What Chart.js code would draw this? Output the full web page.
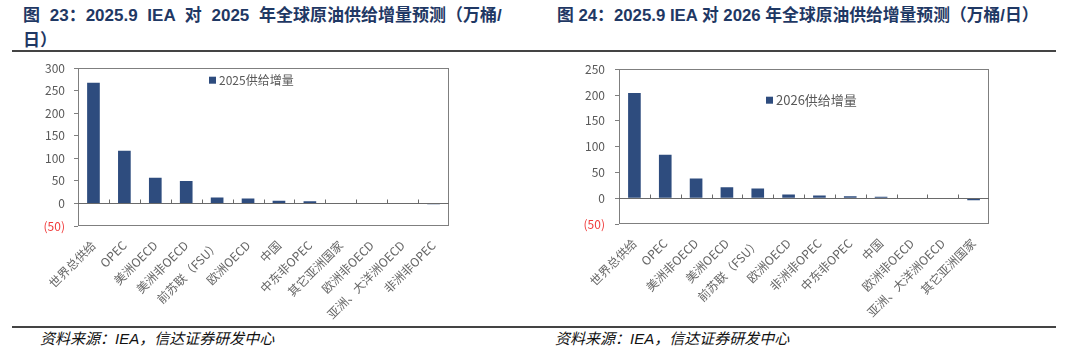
<!DOCTYPE html>
<html><head><meta charset="utf-8">
<script src="https://cdn.jsdelivr.net/npm/chart.js@4.4.0/dist/chart.umd.min.js"></script>
<style>
body{margin:0;width:1080px;height:356px;background:#fff;position:relative;overflow:hidden;font-family:"Liberation Sans","Noto Sans CJK SC",sans-serif;}
.title{position:absolute;font-weight:bold;color:#1F3864;font-size:16.8px;line-height:25px;white-space:nowrap;font-family:"Liberation Sans","Noto Sans CJK SC",sans-serif;}
.rule{position:absolute;left:12px;width:1044px;height:2px;background:#444;}
.src{position:absolute;font-style:italic;font-size:15px;color:#111;white-space:nowrap;font-family:"Liberation Sans","Noto Sans CJK SC",sans-serif;}
.box{position:absolute;top:52px;width:540px;height:274px;}
</style></head>
<body>
<div class="title" id="t1" style="left:23px;top:3px;font-size:17px;word-spacing:5px;">图 23：2025.9 IEA 对 2025 年全球原油供给增量预测（万桶/</div>
<div class="title" style="left:23px;top:28px;font-size:17px;">日）</div>
<div class="title" style="left:557px;top:3px;">图 24：2025.9 IEA 对 2026 年全球原油供给增量预测（万桶/日）</div>
<div class="rule" style="top:50px;"></div>
<div class="box" style="left:0;"><canvas id="c1"></canvas></div>
<div class="box" style="left:540px;"><canvas id="c2"></canvas></div>
<div class="rule" style="top:326px;"></div>
<div class="src" style="left:40px;top:327px;">资料来源：IEA，信达证券研发中心</div>
<div class="src" style="left:555px;top:327px;">资料来源：IEA，信达证券研发中心</div>
<script>
// ---- data ----
const cats2025 = ['世界总供给','OPEC','美洲OECD','美洲非OECD','前苏联（FSU）','欧洲OECD','中国','中东非OPEC','其它亚洲国家','欧洲非OECD','亚洲、大洋洲OECD','非洲非OPEC'];
const supply2025 = [268,117,57,50,13,11,6,5,0,0,0,-2];
const yTicks2025 = [-50,0,50,100,150,200,250,300];

const cats2026 = ['世界总供给','OPEC','美洲非OECD','美洲OECD','前苏联（FSU）','欧洲OECD','非洲非OPEC','中东非OPEC','中国','欧洲非OECD','亚洲、大洋洲OECD','其它亚洲国家'];
const supply2026 = [204,84,38,21,19,7,5,4,3,0,0,-4];
const yTicks2026 = [-50,0,50,100,150,200,250];

const label2025 = '2025供给增量';
const label2026 = '2026供给增量';

const BAR = '#2E4C7E';
const GRAY = '#595959';
const XGRAY = '#666666';
const FONT = '"Noto Sans CJK SC","Liberation Sans",sans-serif';

const framePlugin = {
  id: 'frame',
  afterDatasetsDraw(chart, args, opts) {
    const {ctx, chartArea: a, scales: {x, y}} = chart;
    ctx.save();
    ctx.lineWidth = 1;
    ctx.strokeStyle = '#7f7f7f';
    ctx.strokeRect(Math.round(a.left) + 0.5, Math.round(a.top) + 0.5, Math.round(a.width) - 1, Math.round(a.height) - 1);
    const y0 = Math.round(y.getPixelForValue(0)) + 0.5;
    ctx.strokeStyle = '#6a6a6a';
    ctx.beginPath();
    ctx.moveTo(a.left, y0); ctx.lineTo(a.right, y0);
    const n = x.ticks.length;
    for (let i = 1; i < n; i++) {
      const px = Math.round((x.getPixelForTick(i - 1) + x.getPixelForTick(i)) / 2) + 0.5;
      ctx.moveTo(px, y0); ctx.lineTo(px, y0 - 4);
    }
    ctx.stroke();
    // legend
    const lg = opts.legend;
    const ds = chart.data.datasets[0];
    const lx = a.left + lg.dx, ly = a.top + lg.dy;
    ctx.fillStyle = ds.backgroundColor;
    ctx.fillRect(lx, ly - lg.box / 2, lg.box, lg.box);
    ctx.fillStyle = GRAY;
    ctx.font = lg.size + 'px ' + FONT;
    ctx.textBaseline = 'middle';
    ctx.textAlign = 'left';
    ctx.fillText(ds.label, lx + lg.box + 3, ly);
    ctx.restore();
  }
};

function makeChart(id, cats, vals, label, yTicks, cfg) {
  return new Chart(document.getElementById(id), {
    type: 'bar',
    data: { labels: cats, datasets: [{ label: label, data: vals, backgroundColor: BAR, borderWidth: 0, barPercentage: 0.41, categoryPercentage: 1 }] },
    options: {
      responsive: true, maintainAspectRatio: false, animation: false,
      layout: { padding: { top: cfg.top, right: cfg.right, left: 0, bottom: 0 } },
      plugins: { legend: { display: false }, tooltip: { enabled: false }, frame: { legend: cfg.legend } },
      scales: {
        x: {
          grid: { display: false }, border: { display: false },
          ticks: { autoSkip: false, maxRotation: 45, minRotation: 45, padding: cfg.xpad, color: XGRAY, font: { family: FONT, size: 12 } },
          afterFit: s => { s.height = cfg.xh; }
        },
        y: {
          min: yTicks[0], max: yTicks[yTicks.length - 1],
          afterBuildTicks: s => { s.ticks = yTicks.map(v => ({ value: v })); },
          grid: { drawOnChartArea: false, tickLength: 4, color: '#7f7f7f' },
          border: { display: false },
          ticks: {
            padding: cfg.ypad, font: { family: FONT, size: 12 },
            color: c => c.tick.value < 0 ? '#F03C3C' : GRAY,
            callback: v => v < 0 ? '(' + (-v) + ')' : String(v)
          },
          afterFit: s => { s.width = cfg.yw; }
        }
      }
    },
    plugins: [framePlugin]
  });
}

makeChart('c1', cats2025, supply2025, label2025, yTicks2025,
  { top: 12, right: 91, xh: 100, yw: 78, ypad: 9, xpad: 4, legend: { dx: 131, dy: 12, box: 7, size: 12 } });
makeChart('c2', cats2026, supply2026, label2026, yTicks2026,
  { top: 8, right: 91, xh: 102, yw: 79, ypad: 10, xpad: 4, legend: { dx: 147, dy: 31, box: 7, size: 13 } });
</script>
</body></html>
